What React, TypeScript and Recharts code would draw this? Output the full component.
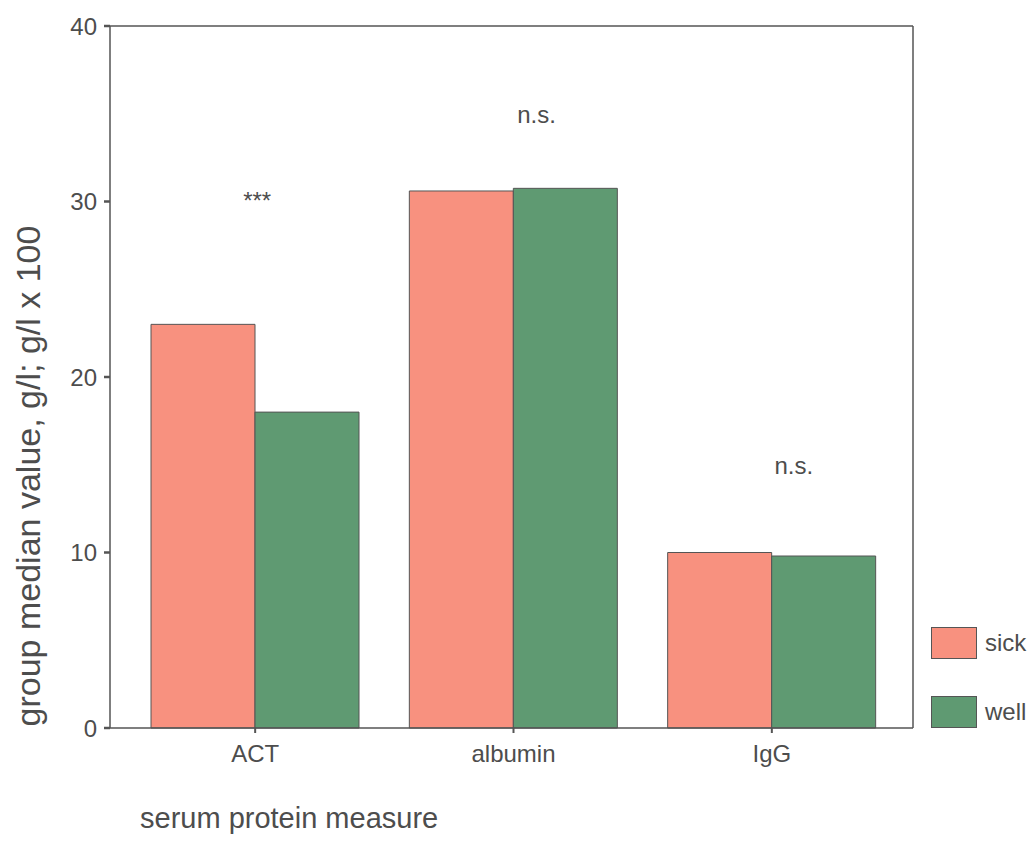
import React from 'react';
import {
  BarChart,
  Bar,
  XAxis,
  YAxis,
  Legend,
  CartesianGrid,
  ReferenceDot,
  Label
} from 'recharts';

// serum protein medians
const categories = ['ACT', 'albumin', 'IgG'];
const sickValues = [23.0, 30.6, 10.0];
const wellValues = [18.0, 30.75, 9.8];
const yTicks = [0, 10, 20, 30, 40];

// significance marks above each pair, and the level they sit at
const sigLabels = ['***', 'n.s.', 'n.s.'];
const sigLevels = [29.6, 34.5, 14.5];

const data = categories.map((name, i) => ({
  name,
  sick: sickValues[i],
  well: wellValues[i]
}));

const FONT = '"Liberation Sans", Arial, sans-serif';
const TEXT = '#4d4d4d';
const AXIS = '#555555';
const SICK = '#f8917f';
const WELL = '#5f9a72';

const sigOffsets = [2, 23, 22];

const LegendBox = (props: any) => {
  const items = props.payload || [];
  return (
    <div style={{ fontFamily: FONT }}>
      {items.map((it: any, i: number) => (
        <div
          key={i}
          style={{ display: 'flex', alignItems: 'center', height: 31, marginBottom: i === 0 ? 38 : 0 }}
        >
          <div
            style={{
              width: 44,
              height: 30,
              background: it.color,
              border: `1px solid ${AXIS}`
            }}
          />
          <span style={{ marginLeft: 8, fontSize: 24, color: TEXT }}>{it.value}</span>
        </div>
      ))}
    </div>
  );
};

const App = () => {
  return (
    <div style={{ position: 'absolute', left: 0, top: 0, background: '#fff' }}>
      <BarChart
        width={1030}
        height={856}
        data={data}
        margin={{ top: 26, right: 117, bottom: 0, left: 0 }}
        barCategoryGap={25}
        barGap={0}
      >
        {/* top and right edges of the frame */}
        <CartesianGrid
          stroke={AXIS}
          strokeWidth={1.5}
          horizontalCoordinatesGenerator={(p: any) => [p.offset.top]}
          verticalCoordinatesGenerator={(p: any) => [p.offset.left + p.offset.width]}
        />
        <XAxis
          dataKey="name"
          height={128}
          padding={{ left: 16, right: 12 }}
          tick={{ fill: TEXT, fontSize: 24, fontFamily: FONT }}
          tickSize={5}
          tickMargin={12}
          tickLine={{ stroke: AXIS, strokeWidth: 2 }}
          axisLine={{ stroke: AXIS, strokeWidth: 1.5 }}
        >
          <Label
            content={() => (
              <text x={140} y={828} fill={TEXT} fontSize={29} fontFamily={FONT}>
                serum protein measure
              </text>
            )}
          />
        </XAxis>
        <YAxis
          width={110}
          domain={[0, 40]}
          ticks={yTicks}
          interval={0}
          tick={{ fill: TEXT, fontSize: 24, fontFamily: FONT }}
          tickSize={6}
          tickMargin={7}
          tickLine={{ stroke: AXIS, strokeWidth: 2.5 }}
          axisLine={{ stroke: AXIS, strokeWidth: 1.5 }}
        >
          <Label
            content={(p: any) => {
              const vb = p.viewBox || { x: 0, y: 26, height: 702 };
              const cx = vb.x + 28;
              const cy = vb.y + vb.height / 2 + 99;
              return (
                <text
                  x={cx}
                  y={cy}
                  transform={`rotate(-90, ${cx}, ${cy})`}
                  textAnchor="middle"
                  dominantBaseline="central"
                  fill={TEXT}
                  fontSize={34}
                  fontFamily={FONT}
                >
                  group median value, g/l; g/l x 100
                </text>
              );
            }}
          />
        </YAxis>
        <Legend
          layout="horizontal"
          verticalAlign="middle"
          align="center"
          content={<LegendBox />}
          wrapperStyle={{ position: 'absolute', left: 931, top: 627, width: 99 }}
        />
        <Bar
          dataKey="sick"
          name="sick"
          fill={SICK}
          stroke={AXIS}
          strokeWidth={1}
          isAnimationActive={false}
        />
        <Bar
          dataKey="well"
          name="well"
          fill={WELL}
          stroke={AXIS}
          strokeWidth={1}
          isAnimationActive={false}
        />
        {categories.map((c, i) => (
          <ReferenceDot
            key={c}
            x={c}
            y={sigLevels[i]}
            r={0}
            fill="none"
            stroke="none"
            ifOverflow="visible"
            label={(p: any) => {
              const vb = p.viewBox || { x: 0, y: 0 };
              return (
                <text
                  x={vb.x + sigOffsets[i]}
                  y={vb.y}
                  textAnchor="middle"
                  fill={TEXT}
                  fontSize={24}
                  fontFamily={FONT}
                >
                  {sigLabels[i]}
                </text>
              );
            }}
          />
        ))}
      </BarChart>
    </div>
  );
};

export default App;
